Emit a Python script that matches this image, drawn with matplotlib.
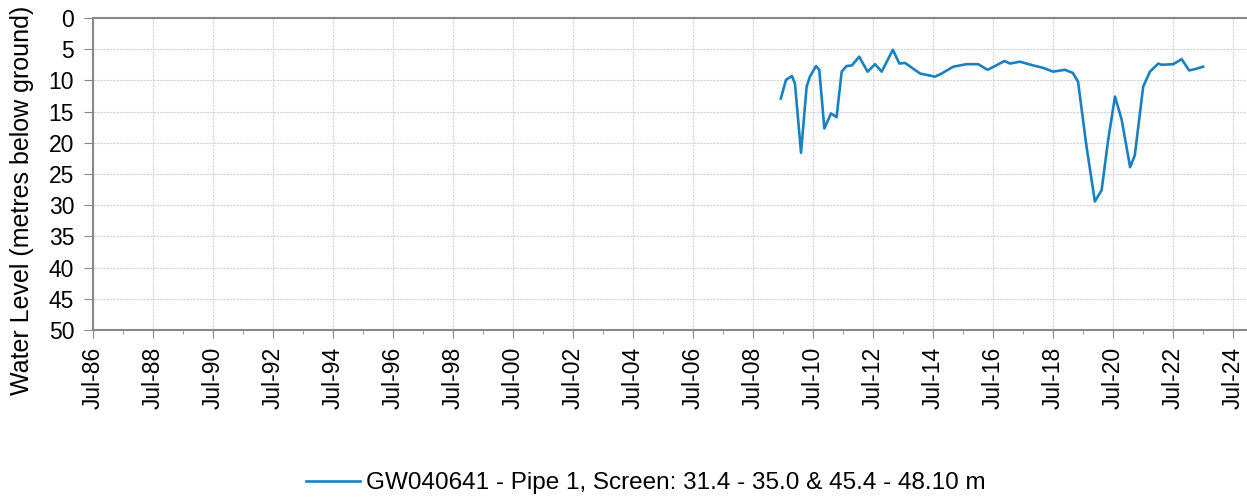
import datetime as dt
import matplotlib
matplotlib.use("Agg")
import matplotlib.pyplot as plt
import matplotlib.dates as mdates

# Datos (nivel de agua, metros bajo el suelo)
dates = ["2009-06-05", "2009-08-07", "2009-10-18", "2009-11-24", "2010-02-06",
         "2010-04-15", "2010-05-25", "2010-08-07", "2010-09-16", "2010-11-17",
         "2011-02-06", "2011-04-15", "2011-06-16", "2011-08-14", "2011-10-18",
         "2012-01-15", "2012-04-26", "2012-07-26", "2012-10-15", "2013-02-28",
         "2013-05-18", "2013-07-26", "2014-01-26", "2014-07-26", "2014-10-15",
         "2015-03-06", "2015-08-14", "2016-01-04", "2016-04-26", "2016-07-26",
         "2016-11-17", "2017-01-26", "2017-05-25", "2017-11-03", "2018-03-06",
         "2018-07-04", "2018-11-24", "2019-02-28", "2019-05-03", "2019-08-14",
         "2019-11-24", "2020-02-14", "2020-05-03", "2020-07-26", "2020-10-15",
         "2021-01-26", "2021-03-24", "2021-07-04", "2021-09-24", "2022-01-04",
         "2022-02-14", "2022-07-04", "2022-10-15", "2023-01-15", "2023-03-24",
         "2023-07-04"]
levels = [12.9, 9.9, 9.3, 10.5, 21.6,
          11.0, 9.4, 7.7, 8.3, 17.7,
          15.3, 15.9, 8.6, 7.7, 7.6,
          6.2, 8.6, 7.4, 8.6, 5.1,
          7.3, 7.2, 8.9, 9.4, 8.9,
          7.8, 7.4, 7.4, 8.3, 7.7,
          6.9, 7.3, 7.0, 7.6, 8.0,
          8.6, 8.3, 8.8, 10.2, 20.6,
          29.4, 27.6, 19.6, 12.6, 16.3,
          23.9, 22.0, 11.0, 8.6, 7.3,
          7.5, 7.4, 6.6, 8.4, 8.2,
          7.8]
series_label = "GW040641 - Pipe 1, Screen: 31.4 - 35.0 & 45.4 - 48.10 m"
y_ticks = list(range(0, 55, 5))

x = [dt.datetime.strptime(d, "%Y-%m-%d") for d in dates]

plt.rcParams["font.family"] = ["Liberation Sans", "DejaVu Sans"]

fig = plt.figure(figsize=(12.47, 4.99), dpi=100)
ax = fig.add_axes([93 / 1247, 169 / 499, 1154 / 1247, 312 / 499])

ax.plot(x, levels, color="#1b80c1", linewidth=1.9, label=series_label)

# Eje X: fechas de Jul-86 a ~fin de 2024
x0 = dt.datetime(1986, 7, 1)
ax.set_xlim(x0, x0 + dt.timedelta(days=38.47 * 365.25))
ax.xaxis.set_major_locator(mdates.YearLocator(2, month=7, day=1))
ax.xaxis.set_minor_locator(mdates.YearLocator(1, month=7, day=1))
ax.xaxis.set_major_formatter(mdates.DateFormatter("%b-%y"))
plt.setp(ax.get_xticklabels(), rotation=90, fontsize=16.5)

# Eje Y invertido
ax.set_ylim(50, 0)
ax.set_yticks(y_ticks)
ax.tick_params(axis="y", labelsize=16.5, length=6.5, color="#888888", pad=7)
ax.tick_params(axis="x", which="major", length=6, color="#888888", pad=6)
ax.tick_params(axis="x", which="minor", length=3, color="#888888")

fig.text(22 / 1247, 1 - 200 / 499, "Water Level (metres below ground)",
         rotation=90, fontsize=18, ha="center", va="center")

ax.grid(True, which="major", color="#d3d3d3", linestyle=(0, (2, 1)), linewidth=0.8)
for side in ["left", "bottom", "top"]:
    ax.spines[side].set_color("#888888")
    ax.spines[side].set_linewidth(1.5)
ax.spines["right"].set_visible(False)

fig.legend(loc="center", bbox_to_anchor=(646 / 1247, 1 - 483 / 499), frameon=False,
           fontsize=17.5, handlelength=2.2, handletextpad=0.25)

fig.savefig("out.png", dpi=100)
